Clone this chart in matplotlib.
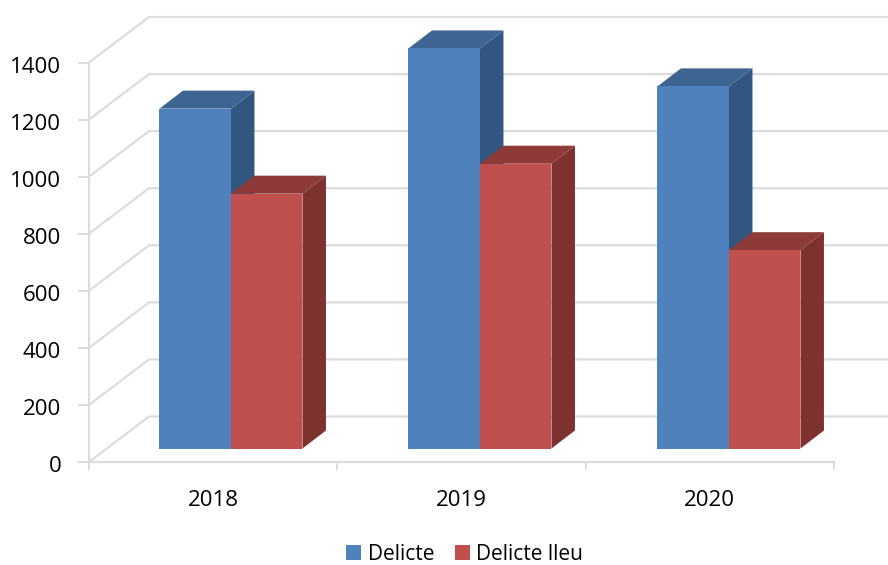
import matplotlib
matplotlib.use("Agg")
import matplotlib.pyplot as plt
from matplotlib.patches import Patch
from matplotlib.transforms import ScaledTranslation

categories = ["2018", "2019", "2020"]
delicte = [1191, 1402, 1269]
delicte_lleu = [893, 998, 695]
y_ticks = [0, 200, 400, 600, 800, 1000, 1200, 1400]
series_names = ["Delicte", "Delicte lleu"]

W, H = 888, 565
L, R, T, B = 89, 834, 62.5, 462
PX_X = (R - L) / 3
PX_Y = (B - T) / 1400

plt.rcParams["font.family"] = ["Open Sans", "DejaVu Sans"]
fig = plt.figure(figsize=(W / 100, H / 100), dpi=100, facecolor="white")
ax = fig.add_axes([L / W, 1 - B / H, (R - L) / W, (B - T) / H])
ax.set_xlim(0, 3)
ax.set_ylim(0, 1400)
ax.patch.set_alpha(0)

GRID = "#dcdcdc"
wall_dx = 60 / PX_X
wall_dy = 45.5 / PX_Y
right_edge = (W + 2 - L) / PX_X
for v in y_ticks:
    ax.plot([0, wall_dx, right_edge], [v, v + wall_dy, v + wall_dy], color=GRID,
            lw=1.6, clip_on=False, zorder=1, solid_joinstyle="miter")

base = 13.5 / PX_Y
shift = 17.8 / PX_X
slot = 249 / PX_X
bw = 71.5 / PX_X
dx = 23.5 / PX_X
dy = 18 / PX_Y

styles = [("#4f81bd", "#335680", "#3e6591"), ("#c0504d", "#7d3230", "#8e3a38")]

for s, (vals, (front, side, top)) in enumerate(zip([delicte, delicte_lleu], styles)):
    for i, v in enumerate(vals):
        x0 = i * slot + 0.5 + shift - bw + s * bw
        x1 = x0 + bw
        z = 3 + s * 2
        ax.fill([x1, x1 + dx, x1 + dx, x1],
                [base, base + dy, base + v + dy, base + v],
                color=side, lw=0, clip_on=False, zorder=z)
        ax.fill([x0, x1, x1 + dx, x0 + dx],
                [base + v, base + v, base + v + dy, base + v + dy],
                color=top, lw=0, clip_on=False, zorder=z)
        ax.bar(x0, v, bottom=base, width=bw, align="edge", color=front, lw=0,
               zorder=z + 1, clip_on=False)

for sp in ["top", "right"]:
    ax.spines[sp].set_visible(False)
for sp in ["left", "bottom"]:
    ax.spines[sp].set_color(GRID)
    ax.spines[sp].set_linewidth(1.6)

ax.set_yticks(y_ticks)
ax.tick_params(axis="y", length=8, width=1.4, color=GRID, labelsize=16, pad=12, labelcolor="black")
offset = ScaledTranslation(0, -2.5 / 100, fig.dpi_scale_trans)
for lab in ax.get_yticklabels():
    lab.set_transform(lab.get_transform() + offset)
ax.set_xticks([0, 1, 2, 3])
ax.set_xticklabels([])
ax.tick_params(axis="x", length=6, width=1.4, color=GRID)
for i, c in enumerate(categories):
    ax.annotate(c, xy=(i + 0.5, 0), xytext=(0, -38), textcoords="offset pixels",
                ha="center", va="center", fontsize=16, color="black", annotation_clip=False)

handles = [Patch(color=styles[0][0], lw=0), Patch(color=styles[1][0], lw=0)]
fig.legend(handles, series_names, loc="center left", bbox_to_anchor=(340 / W, 1 - 554.5 / H),
           frameon=False, fontsize=15, handlelength=0.72, handleheight=0.72,
           handletextpad=0.3, columnspacing=1.0, ncol=2, borderpad=0.3, borderaxespad=0)

fig.savefig("out.png", dpi=100)
